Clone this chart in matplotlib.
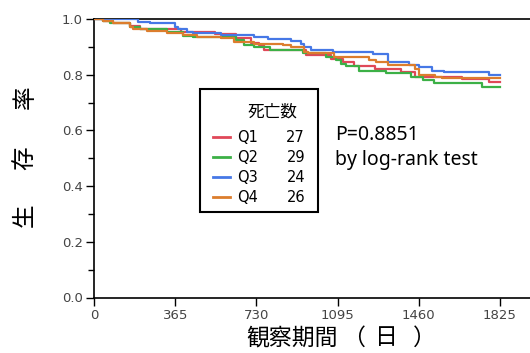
import matplotlib
matplotlib.use('Agg')
import matplotlib.pyplot as plt
from matplotlib.patches import Rectangle
from matplotlib.lines import Line2D

# 生存曲線のデータ (日, 生存率)
q1_days = [0, 41, 86, 163, 208, 390, 546, 637, 705, 740, 765, 953, 1066, 1120, 1170, 1265, 1382, 1441, 1653, 1775, 1825]
q1_surv = [1.0, 0.992, 0.984, 0.975, 0.964, 0.955, 0.946, 0.93, 0.915, 0.905, 0.888, 0.87, 0.858, 0.846, 0.832, 0.822, 0.81, 0.793, 0.783, 0.772, 0.772]

q2_days = [0, 41, 72, 163, 208, 330, 402, 447, 637, 673, 718, 790, 939, 1043, 1088, 1111, 1134, 1192, 1314, 1427, 1481, 1527, 1743, 1825]
q2_surv = [1.0, 0.993, 0.984, 0.972, 0.964, 0.952, 0.94, 0.934, 0.925, 0.906, 0.898, 0.888, 0.877, 0.865, 0.853, 0.84, 0.83, 0.815, 0.805, 0.793, 0.78, 0.771, 0.757, 0.757]

q3_days = [0, 199, 253, 366, 379, 420, 447, 569, 718, 781, 885, 930, 945, 976, 1075, 1256, 1323, 1414, 1463, 1518, 1572, 1775, 1825]
q3_surv = [1.0, 0.99, 0.984, 0.972, 0.963, 0.955, 0.948, 0.941, 0.934, 0.927, 0.92, 0.909, 0.90, 0.888, 0.88, 0.873, 0.844, 0.834, 0.827, 0.813, 0.81, 0.80, 0.80]

q4_days = [0, 41, 86, 163, 176, 239, 330, 402, 465, 569, 628, 718, 849, 885, 944, 962, 1079, 1238, 1269, 1323, 1441, 1459, 1531, 1563, 1825]
q4_surv = [1.0, 0.993, 0.984, 0.97, 0.963, 0.957, 0.948, 0.941, 0.936, 0.93, 0.919, 0.912, 0.906, 0.90, 0.883, 0.877, 0.864, 0.853, 0.846, 0.835, 0.82, 0.80, 0.793, 0.787, 0.787]

groups = ['Q1', 'Q2', 'Q3', 'Q4']
deaths = [27, 29, 24, 26]
colors = ['#e04858', '#3cb046', '#4678e6', '#dc7d2d']
x_ticks = [0, 365, 730, 1095, 1460, 1825]

W, H = 530, 353


def fx(x):
    return x / W


def fy(y):
    return 1 - y / H


fig = plt.figure(figsize=(W / 100, H / 100), dpi=100)
ax = fig.add_axes([fx(94), fy(297.5), 436 / W, 278.5 / H])

curves = [(q1_days, q1_surv), (q2_days, q2_surv), (q3_days, q3_surv), (q4_days, q4_surv)]
for (d, s), c in zip(curves, colors):
    ax.step(d, s, where='post', color=c, lw=1.6, zorder=3)

ax.set_xlim(0, 1960)
ax.set_ylim(0, 1.0)
ax.set_xticks(x_ticks)
ax.set_yticks([0, 0.2, 0.4, 0.6, 0.8, 1.0])
ax.set_yticks([0.1, 0.3, 0.5, 0.7, 0.9], minor=True)
ax.yaxis.set_major_formatter(matplotlib.ticker.FormatStrFormatter('%.1f'))
ax.spines['right'].set_visible(False)
for sp in ['left', 'bottom', 'top']:
    ax.spines[sp].set_linewidth(1.2)
ax.tick_params(axis='both', which='major', direction='out', length=6, width=1,
               labelsize=9.5, labelcolor='#444444', pad=2)
ax.tick_params(axis='y', which='minor', direction='out', length=4, width=1)

cjk = ['Noto Sans CJK JP', 'DejaVu Sans']
# 縦軸ラベル (一文字ずつ)
for ch, cy in zip(['生', '存', '率'], [215, 158, 97]):
    fig.text(fx(25), fy(cy), ch, rotation=90, ha='center', va='center',
             fontsize=17, family=cjk)
# 横軸ラベル
fig.text(fx(246), fy(338), '観察期間', ha='left', va='center', fontsize=16.5, family=cjk)
fig.text(fx(353), fy(338), '（', ha='center', va='center', fontsize=16.5, family=cjk)
fig.text(fx(386), fy(338), '日', ha='center', va='center', fontsize=16.5, family=cjk)
fig.text(fx(424), fy(338), '）', ha='center', va='center', fontsize=16.5, family=cjk)

# 凡例ボックス
fig.patches.append(Rectangle((fx(200), fy(212)), (318 - 200) / W, (212 - 89) / H,
                             transform=fig.transFigure, fill=True, facecolor='white',
                             edgecolor='black', lw=1.5, zorder=5))
fig.text(fx(272), fy(112), '死亡数', ha='center', va='center', fontsize=12,
         family=cjk, zorder=6)
rows_y = [137, 157, 177, 197]
for g, n, c, ry in zip(groups, deaths, colors, rows_y):
    fig.lines.append(Line2D([fx(213), fx(230)], [fy(ry), fy(ry)], color=c, lw=2,
                            transform=fig.transFigure, zorder=6))
    fig.text(fx(237), fy(ry), g, ha='left', va='center', fontsize=10.5, zorder=6)
    fig.text(fx(305), fy(ry), str(n), ha='right', va='center', fontsize=10.5, zorder=6)

fig.text(fx(335), fy(135), 'P=0.8851', ha='left', va='center', fontsize=14,
         family='Noto Sans')
fig.text(fx(335), fy(160), 'by log-rank test', ha='left', va='center', fontsize=14,
         family='Noto Sans')

fig.savefig('out.png', dpi=100)
